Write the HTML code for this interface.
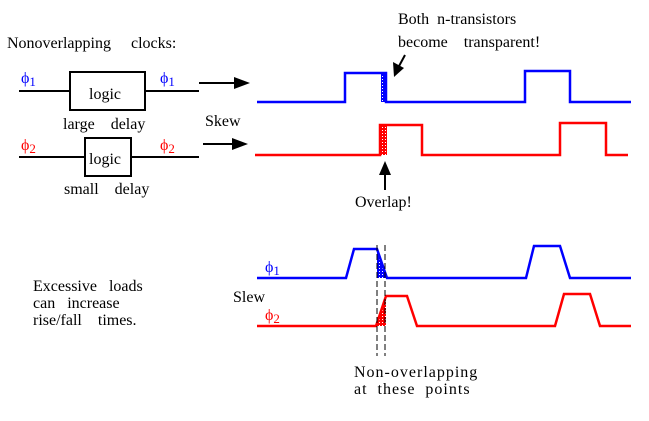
<!DOCTYPE html>
<html><head><style>body{margin:0;background:#fff}svg{display:block}text{font-family:"Liberation Serif",serif;font-size:16px}</style></head><body>
<svg width="649" height="421" viewBox="0 0 649 421" xmlns="http://www.w3.org/2000/svg">
<defs>
<pattern id="db" width="3" height="3" patternUnits="userSpaceOnUse"><rect width="3" height="3" fill="#00f"/><rect x="1" y="1" width="1" height="1" fill="#fff"/></pattern>
<pattern id="dr" width="3" height="3" patternUnits="userSpaceOnUse"><rect width="3" height="3" fill="#f00"/><rect x="1" y="1" width="1" height="1" fill="#fff"/></pattern>
</defs>
<text x="7" y="48">Nonoverlapping&#160;&#160;&#160;&#160; clocks:</text>
<text x="21" y="83" fill="#00f" font-size="18">ϕ<tspan font-size="13" dy="3">1</tspan></text>
<text x="160" y="83" fill="#00f" font-size="18">ϕ<tspan font-size="13" dy="3">1</tspan></text>
<text x="21" y="150" fill="#f00" font-size="18">ϕ<tspan font-size="13" dy="3">2</tspan></text>
<text x="160" y="150" fill="#f00" font-size="18">ϕ<tspan font-size="13" dy="3">2</tspan></text>
<g stroke="#000" stroke-width="2" fill="none">
<line x1="19" y1="91" x2="70" y2="91"/><rect x="70" y="72" width="75" height="38"/><line x1="145" y1="91" x2="199" y2="91"/>
<line x1="19" y1="157" x2="85" y2="157"/><rect x="85" y="138" width="46" height="38"/><line x1="131" y1="157" x2="199" y2="157"/>
<line x1="199" y1="83" x2="238" y2="83"/><line x1="203" y1="144" x2="236" y2="144"/>
<line x1="385" y1="190" x2="385" y2="172"/>
<line x1="405" y1="55" x2="398" y2="68"/>
</g>
<polygon points="250,83 234,77 234,89" fill="#000"/>
<polygon points="248,144 232,138 232,150" fill="#000"/>
<polygon points="385,161 379,175 391,175" fill="#000"/>
<polygon points="394,77 393,62 404,68" fill="#000"/>
<text x="89" y="99" font-size="17">logic</text>
<text x="89" y="164" font-size="17">logic</text>
<text x="63" y="129">large&#160;&#160;&#160; delay</text>
<text x="64" y="194">small&#160;&#160;&#160; delay</text>
<text x="205" y="126">Skew</text>
<text x="398" y="24">Both&#160; n-transistors</text>
<text x="398" y="47">become&#160;&#160;&#160; transparent!</text>
<text x="355" y="207">Overlap!</text>
<rect x="381" y="73" width="6" height="29" fill="url(#db)"/>
<rect x="380" y="125" width="7" height="30" fill="url(#dr)"/>
<g fill="none" stroke-width="2.5">
<polyline stroke="#00f" points="257,102 345,102 345,73 386,73 386,102 525,102 525,71 570,71 570,102 631,102"/>
<polyline stroke="#f00" points="255,155 380,155 380,125 422,125 422,155 560,155 560,123 606,123 606,155 628,155"/>
</g>
<polygon points="377,249 377,278 387,278" fill="url(#db)"/>
<polygon points="376,326 386,296 386,326" fill="url(#dr)"/>
<g fill="none" stroke-width="2.5">
<polyline stroke="#00f" points="257,278 346,278 354,249 377,249 387,278 526,278 534,246 560,246 570,278 631,278"/>
<polyline stroke="#f00" points="257,326 376,326 386,296 407,296 417,326 555,326 564,294 590,294 600,326 631,326"/>
</g>
<g stroke="#000" stroke-width="1" stroke-dasharray="6,3">
<line x1="377" y1="245" x2="377" y2="356"/><line x1="385" y1="245" x2="385" y2="356"/>
</g>
<text x="265" y="272" fill="#00f" font-size="18">ϕ<tspan font-size="13" dy="3">1</tspan></text>
<text x="265" y="320" fill="#f00" font-size="18">ϕ<tspan font-size="13" dy="3">2</tspan></text>
<text x="233" y="302">Slew</text>
<text x="33" y="291">Excessive&#160;&#160; loads</text>
<text x="33" y="308">can&#160;&#160; increase</text>
<text x="33" y="325">rise/fall&#160;&#160;&#160; times.</text>
<text x="354" y="377" font-size="17" letter-spacing="1">Non-overlapping</text>
<text x="354" y="394" font-size="17" letter-spacing="1">at&#160; these&#160; points</text>
</svg>
</body></html>
